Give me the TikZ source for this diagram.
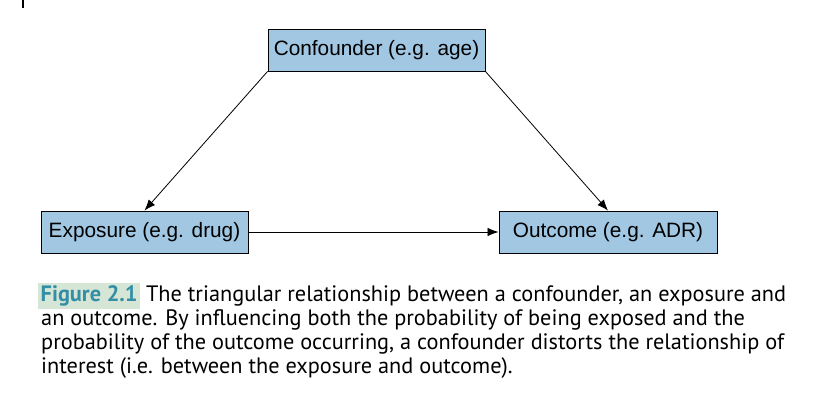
\documentclass[tikz,border=0pt]{standalone}
\usepackage{xcolor}
\usepackage{fontspec}
\usepackage{tikz}
\usetikzlibrary{arrows.meta}
\setmainfont{PT Sans}
\newfontfamily\boxfont{Liberation Sans}
\definecolor{boxblue}{RGB}{161,199,227}
\definecolor{tagbg}{RGB}{213,229,214}
\definecolor{tagfg}{RGB}{52,142,165}
\newcommand{\figtag}[1]{{\setlength{\fboxsep}{2.5pt}\colorbox{tagbg}{\color{tagfg}\bfseries #1}}}

\begin{document}
\begin{tikzpicture}[
    x=1pt, y=-1pt,
    box/.style={rectangle, draw, fill=boxblue, line width=0.9pt, minimum height=42pt, inner sep=0pt, font=\boxfont\fontsize{20.8}{24}\selectfont},
    arrow/.style={-{Latex[length=11pt,width=8.5pt]}, line width=0.8pt},
    caption/.style={align=left, inner sep=0pt, font=\fontsize{22.3}{24}\selectfont}
]
    \useasboundingbox (0,0) rectangle (823,403);
    \draw[line width=1.3pt] (23,0) -- (23,8);

    \node[box, minimum width=217pt] (conf) at (376.5,50) {Confounder (e.g. age)};
    \node[box, minimum width=207pt] (expo) at (144.5,232) {Exposure (e.g. drug)};
    \node[box, minimum width=218pt] (outc) at (608,232) {Outcome (e.g. ADR)};

    \draw[arrow] (conf.south west) -- (expo.north);
    \draw[arrow] (conf.south east) -- (outc.north);
    \draw[arrow] (expo) -- (outc);

    \node[caption, anchor=north west] (caption) at (41,283) {\hspace*{-3pt}\figtag{Figure 2.1}\hspace{6pt}The triangular relationship between a confounder, an exposure and\\
an outcome. By influencing both the probability of being exposed and the\\
probability of the outcome occurring, a confounder distorts the relationship of\\
interest (i.e. between the exposure and outcome).};
\end{tikzpicture}
\end{document}
